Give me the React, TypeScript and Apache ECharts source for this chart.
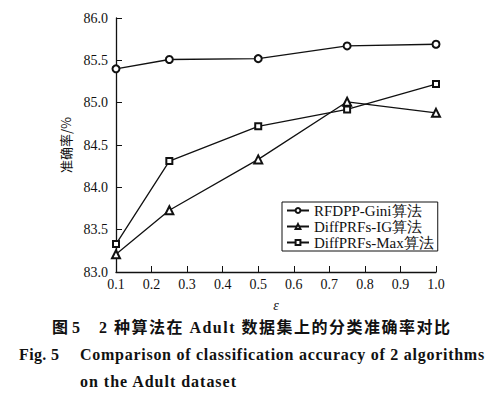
import React, { useEffect, useRef } from "react";
import * as echarts from "echarts";

const epsilon = [0.1, 0.25, 0.5, 0.75, 1.0];
const giniAcc = [85.4, 85.51, 85.52, 85.67, 85.69];
const igAcc = [83.21, 83.73, 84.33, 85.01, 84.88];
const maxAcc = [83.33, 84.31, 84.72, 84.92, 85.22];
const seriesNames = ["RFDPP-Gini算法", "DiffPRFs-IG算法", "DiffPRFs-Max算法"];
const captionCnLabel = "图 5";
const captionCn = "2 种算法在 Adult 数据集上的分类准确率对比";
const captionEnLabel = "Fig. 5";
const captionEn2 = "Comparison of classification accuracy of 2 algorithms";
const captionEn3 = "on the Adult dataset";

const SERIF = "'Liberation Serif', 'Times New Roman', serif";

// target spans for the caption lines (layout only)
const fitTargets: { text: string; width: number }[] = [
  { text: captionCnLabel, width: 28 },
  { text: captionCn, width: 351 },
  { text: captionEnLabel, width: 40 },
  { text: captionEn2, width: 404 },
  { text: captionEn3, width: 156 },
];

export default function App() {
  const ref = useRef<HTMLDivElement>(null);
  useEffect(() => {
    if (!ref.current) return;
    const chart = echarts.init(ref.current, null, { renderer: "svg" });
    const mk = (vals: number[]) => epsilon.map((e, i) => [e, vals[i]]);
    const common = {
      type: "line",
      lineStyle: { color: "#111", width: 1.3 },
      itemStyle: { color: "#111", borderColor: "#111", borderWidth: 1.2 },
    };
    const capText = (text: string, x: number, y: number, font: string) => ({
      type: "text",
      x,
      y,
      style: { text, verticalAlign: "middle", fill: "#111", font },
    });
    const cnFont = "bold 16px 'Liberation Serif', 'Noto Sans CJK SC', serif";
    const enFont = "bold 16px 'Liberation Serif', serif";
    chart.setOption({
      animation: false,
      backgroundColor: "#fff",
      grid: { left: 116, top: 18, right: 63, bottom: 126 },
      xAxis: {
        type: "value",
        min: 0.1,
        max: 1.0,
        interval: 0.1,
        axisLine: { lineStyle: { color: "#111", width: 1.3 } },
        axisTick: { inside: true, length: 6, lineStyle: { color: "#111" } },
        axisLabel: {
          color: "#111",
          fontFamily: SERIF,
          fontSize: 14,
          margin: 5,
          formatter: (v: number) => v.toFixed(1),
        },
        splitLine: { show: false },
        name: "ε",
        nameLocation: "middle",
        nameGap: 26,
        nameTextStyle: { color: "#111", fontFamily: SERIF, fontStyle: "italic", fontSize: 14 },
      },
      yAxis: {
        type: "value",
        min: 83,
        max: 86,
        interval: 0.5,
        axisLine: { show: true, lineStyle: { color: "#111", width: 1.3 } },
        axisTick: { show: true, inside: true, length: 6, lineStyle: { color: "#111" } },
        axisLabel: {
          color: "#111",
          fontFamily: SERIF,
          fontSize: 14,
          margin: 8,
          formatter: (v: number) => v.toFixed(1),
        },
        splitLine: { show: false },
        name: "准确率/%",
        nameLocation: "middle",
        nameGap: 44,
        nameRotate: 90,
        nameTextStyle: { color: "#111", fontFamily: "'Noto Sans CJK SC', sans-serif", fontSize: 13 },
      },
      legend: {
        left: 282,
        top: 202,
        orient: "vertical",
        itemGap: 1,
        itemWidth: 22,
        itemHeight: 6,
        padding: [1, 4, 1, 4],
        borderColor: "#111",
        borderWidth: 1,
        backgroundColor: "#fff",
        textStyle: { color: "#111", fontFamily: SERIF, fontSize: 15 },
        data: seriesNames,
      },
      series: [
        { ...common, name: seriesNames[0], symbol: "emptyCircle", symbolSize: 7, data: mk(giniAcc) },
        { ...common, name: seriesNames[1], symbol: "emptyTriangle", symbolSize: 8, data: mk(igAcc) },
        { ...common, name: seriesNames[2], symbol: "emptyRect", symbolSize: 6, data: mk(maxAcc) },
      ],
      graphic: [
        capText(captionCnLabel, 52, 327, cnFont),
        capText(captionCn, 99, 327, cnFont),
        capText(captionEnLabel, 19, 354, enFont),
        capText(captionEn2, 80, 354, enFont),
        capText(captionEn3, 80, 381, enFont),
      ],
    });
    // spread caption letters to the widths of the reference
    const texts = Array.from(ref.current.querySelectorAll("text")) as SVGTextElement[];
    fitTargets.forEach(({ text, width }) => {
      const el = texts.find((t) => t.textContent === text);
      if (!el) return;
      const natural = el.getComputedTextLength();
      const n = Array.from(text).length;
      const sp = (width - natural) / Math.max(1, n - 1);
      if (sp > 0) el.setAttribute("letter-spacing", sp.toFixed(2));
    });
    return () => chart.dispose();
  }, []);
  return (
    <div
      ref={ref}
      style={{ position: "fixed", left: 0, top: 0, width: 499, height: 398, background: "#fff" }}
    />
  );
}
